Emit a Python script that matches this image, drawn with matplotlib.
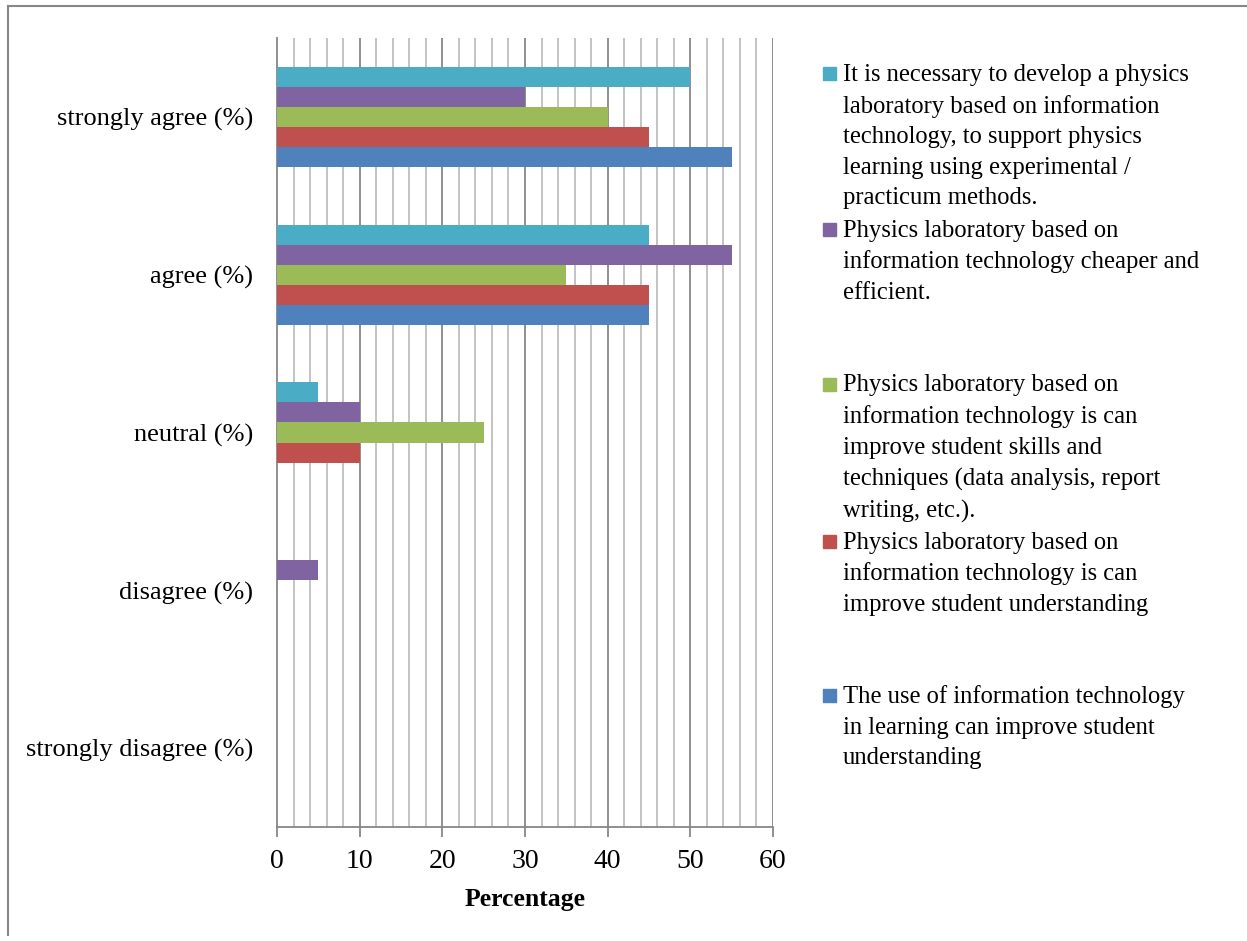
import matplotlib
matplotlib.use("Agg")
import matplotlib.pyplot as plt
import numpy as np
from matplotlib.patches import Rectangle
from matplotlib.lines import Line2D

categories = ["strongly disagree (%)", "disagree (%)", "neutral (%)", "agree (%)", "strongly agree (%)"]

# series, in drawing order (bottom of each group to top)
use_it_learning = [0, 0, 0, 45, 55]
lab_understanding = [0, 0, 10, 45, 45]
lab_skills = [0, 0, 25, 35, 40]
lab_cheaper = [0, 5, 10, 55, 30]
lab_necessary = [0, 0, 5, 45, 50]

series_labels = [
    "The use of information technology\nin learning can improve student\nunderstanding",
    "Physics laboratory based on\ninformation technology is can\nimprove student understanding",
    "Physics laboratory based on\ninformation technology is can\nimprove student skills and\ntechniques (data analysis, report\nwriting, etc.).",
    "Physics laboratory based on\ninformation technology cheaper and\nefficient.",
    "It is necessary to develop a physics\nlaboratory based on information\ntechnology, to support physics\nlearning using experimental /\npracticum methods.",
]
series_values = [use_it_learning, lab_understanding, lab_skills, lab_cheaper, lab_necessary]
colors = ["#4F81BD", "#C0504D", "#9BBB59", "#8064A2", "#4BACC6"]

x_ticks = [0, 10, 20, 30, 40, 50, 60]

plt.rcParams['font.family'] = ['Liberation Serif', 'DejaVu Serif']

fig = plt.figure(figsize=(12.47, 9.41), dpi=100)
ax = fig.add_axes([277/1247, 1-827/941, (773-277)/1247, (827-38)/941])

n = len(series_values)
h = 0.127
y = np.arange(len(categories))
for i, (vals, c) in enumerate(zip(series_values, colors)):
    off = (i - (n-1)/2) * h
    ax.barh(y + off, vals, height=h, color=c, edgecolor='none', zorder=3)

ax.set_xlim(0, 60)
ax.set_ylim(-0.5, len(categories)-0.5)

# gridlines
for xv in np.arange(2, 61, 2):
    if xv % 10 == 0:
        ax.axvline(xv, color='#878787', lw=1.3, zorder=1)
    else:
        ax.axvline(xv, color='#BEBEBE', lw=1.3, zorder=1)

ax.set_xticks(x_ticks)
ax.set_xticklabels([str(t) for t in x_ticks], fontsize=20)
ax.tick_params(axis='x', length=7, width=1.3, color='#878787', pad=9)
ax.set_yticks(y)
ax.set_yticklabels(categories, fontsize=19)
ax.tick_params(axis='y', length=0, pad=17)

for s in ['top', 'right']:
    ax.spines[s].set_visible(False)
ax.spines['bottom'].set_color('#878787')
ax.spines['bottom'].set_linewidth(1.3)
ax.spines['left'].set_color('#878787')
ax.spines['left'].set_linewidth(1.3)

ax.set_xlabel("Percentage", fontsize=18.5, fontweight='bold', labelpad=10)

# legend (manual, top to bottom: reversed series order)
leg_centers = [73.5, 229, 384, 541, 695]
for j, idx in enumerate(reversed(range(n))):
    yc = leg_centers[j]
    fig.add_artist(Rectangle((823/1247, 1-(yc+6.5)/941), 13/1247, 13/941,
                             transform=fig.transFigure, color=colors[idx]))
    fig.text(843/1247, 1-(yc-9.5)/941, series_labels[idx], fontsize=17.7,
             va='top', ha='left', linespacing=1.5)

# outer border
fig.add_artist(Line2D([8/1247, 8/1247], [1-935/941, 1-6/941], transform=fig.transFigure,
                      color='#878787', lw=1.5))
fig.add_artist(Line2D([8/1247, 1.0], [1-6/941, 1-6/941], transform=fig.transFigure,
                      color='#878787', lw=1.5))

fig.savefig("out.png", dpi=100)
